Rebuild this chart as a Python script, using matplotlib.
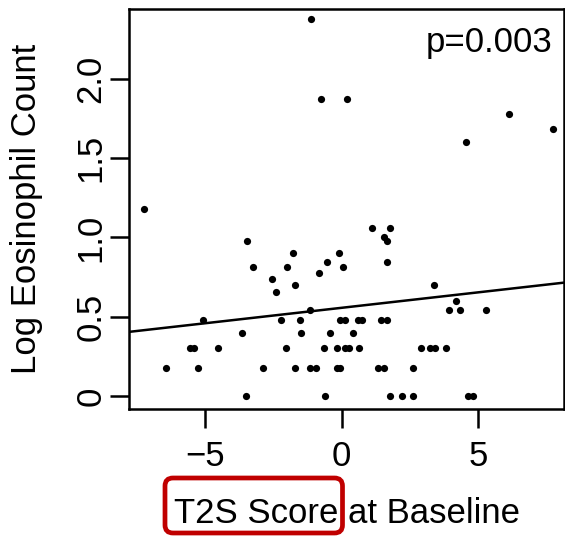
import matplotlib
matplotlib.use("Agg")
import matplotlib.pyplot as plt
from matplotlib.patches import FancyBboxPatch

plt.rcParams['font.family'] = ['Liberation Sans', 'DejaVu Sans']

# T2S score at baseline vs log eosinophil count
t2s = [-1.12, -0.77, 0.19, 4.54, 6.11, 7.72, -7.23,
       -3.45, -3.25, -1.77, -2.00, -2.54, -2.41, -1.72, -0.83, -0.53, -0.11, 0.07,
       -1.15, 1.11, 1.77, 1.56, 1.65, 1.65, 3.37, 4.18, 3.94, 4.34, 5.28,
       -5.08, -2.21, -1.54, -0.06, 0.12, 0.59, 0.74, 1.43, 1.65,
       -3.64, -1.50, -0.44, 0.40,
       -5.55, -5.40, -4.52, -2.05, -0.65, -0.18, 0.14, 0.27, 0.64, 2.90, 3.23, 3.41, 3.82,
       -6.42, -5.25, -2.88, -1.72, -1.16, -0.95, -0.18, -0.05, 1.34, 1.55, 2.62,
       -3.49, -0.61, 1.77, 2.22, 2.62, 4.63, 4.80]
log_eos = [2.377, 1.875, 1.875, 1.602, 1.778, 1.681, 1.176,
           0.977, 0.813, 0.903, 0.813, 0.740, 0.653, 0.699, 0.778, 0.845, 0.903, 0.813,
           0.544, 1.061, 1.061, 1.000, 0.977, 0.845, 0.699, 0.602, 0.544, 0.544, 0.544,
           0.477, 0.477, 0.477, 0.477, 0.477, 0.477, 0.477, 0.477, 0.477,
           0.398, 0.398, 0.398, 0.398,
           0.301, 0.301, 0.301, 0.301, 0.301, 0.301, 0.301, 0.301, 0.301, 0.301, 0.301, 0.301, 0.301,
           0.176, 0.176, 0.176, 0.176, 0.176, 0.176, 0.176, 0.176, 0.176, 0.176, 0.176,
           0, 0, 0, 0, 0, 0, 0]

# regression line
fit_intercept = 0.556
fit_slope = 0.0195
p_text = "p=0.003"

W, H = 565, 537
fig = plt.figure(figsize=(W / 100, H / 100), dpi=100)
ax = fig.add_axes([129 / W, 1 - 409 / H, (564 - 129) / W, (409 - 9) / H])

ax.scatter(t2s, log_eos, s=27, color='black', linewidths=0, zorder=3)
ax.axline((0, fit_intercept), slope=fit_slope, color='black', lw=1.8)

ax.set_xlim(-7.78, 8.14)
ax.set_ylim(-0.082, 2.44)
ax.set_xticks([-5, 0, 5])
ax.set_yticks([0, 0.5, 1.0, 1.5, 2.0])
ax.set_yticklabels(['0', '0.5', '1.0', '1.5', '2.0'])
for s in ax.spines.values():
    s.set_linewidth(1.8)
ax.tick_params(length=13.5, width=1.8, labelsize=25)
ax.tick_params(axis='x', pad=9)
ax.tick_params(axis='y', pad=2)
for lab in ax.get_yticklabels():
    lab.set_rotation(90)
    lab.set_va('center')
    lab.set_ha('right')

fig.text(552 / W, 1 - 52 / H, p_text, fontsize=25, ha='right', va='baseline')
fig.text(347.5 / W, 1 - 523 / H, "T2S Score at Baseline", fontsize=25,
         ha='center', va='baseline')
fig.text(27 / W, 1 - 209 / H, "Log Eosinophil Count", fontsize=25,
         rotation=90, ha='center', va='center')

# red highlight box round "T2S Score"
box = FancyBboxPatch((1.65, (H - 533) / 100), 1.775, 0.55,
                     boxstyle="round,pad=0,rounding_size=0.08",
                     transform=fig.dpi_scale_trans, fill=False,
                     edgecolor='#c00000', lw=3.4, clip_on=False)
fig.add_artist(box)

fig.savefig("out.png", dpi=100)
